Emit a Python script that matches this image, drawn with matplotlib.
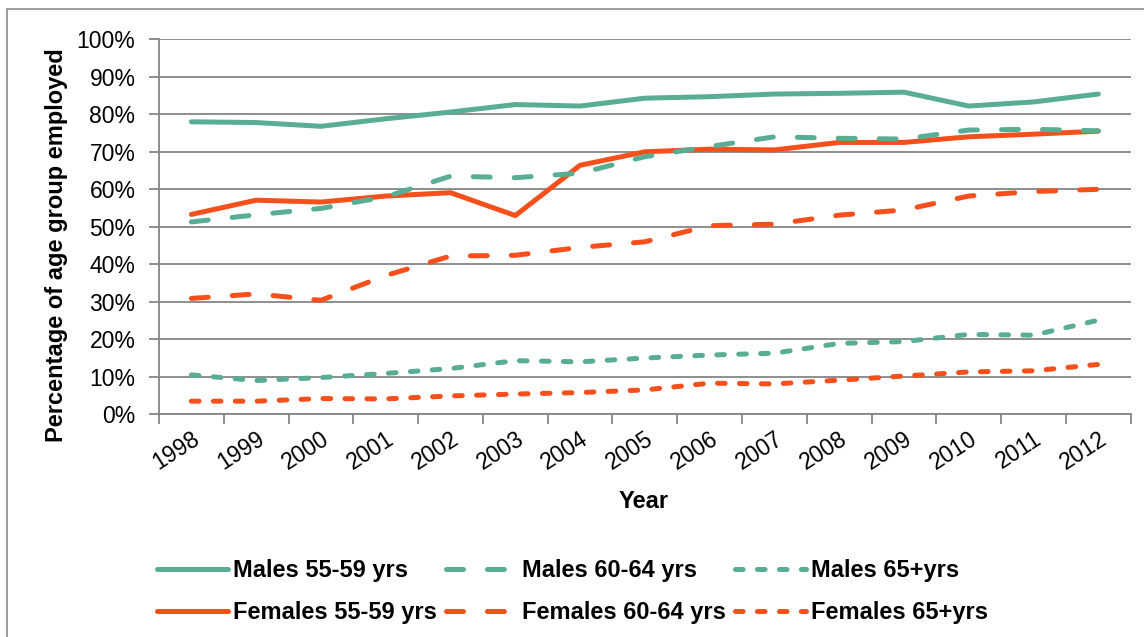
import matplotlib
matplotlib.use("Agg")
import matplotlib.pyplot as plt
from matplotlib.patches import Rectangle
import numpy as np

plt.rcParams['font.family'] = ['Liberation Sans', 'DejaVu Sans']
plt.rcParams['lines.scale_dashes'] = False

years = ['1998', '1999', '2000', '2001', '2002', '2003', '2004', '2005',
         '2006', '2007', '2008', '2009', '2010', '2011', '2012']

males_55_59 = [78.0, 77.8, 76.8, 78.8, 80.6, 82.6, 82.2, 84.3, 84.7, 85.4, 85.6, 85.9, 82.2, 83.3, 85.4]
males_60_64 = [51.3, 53.2, 54.9, 58.0, 63.5, 63.1, 64.3, 68.7, 71.4, 74.0, 73.6, 73.4, 75.8, 76.0, 75.6]
males_65 = [10.5, 9.0, 9.8, 10.9, 12.2, 14.3, 14.0, 15.0, 15.8, 16.3, 18.9, 19.4, 21.3, 21.1, 25.1]
females_55_59 = [53.3, 57.1, 56.6, 58.2, 59.1, 53.0, 66.4, 70.0, 70.7, 70.5, 72.5, 72.5, 74.0, 74.7, 75.5]
females_60_64 = [30.9, 32.1, 30.4, 37.0, 42.2, 42.4, 44.5, 46.0, 50.3, 50.7, 53.1, 54.5, 58.2, 59.4, 60.0]
females_65 = [3.5, 3.5, 4.2, 4.1, 4.9, 5.4, 5.8, 6.5, 8.3, 8.1, 9.1, 10.2, 11.3, 11.6, 13.3]

green = '#59AD95'
red = '#F5501C'
grid_gray = '#868686'
lw = 3.6
long_dash = (12.2, 17.3)
short_dash = (5.5, 10.3)

fig = plt.figure(figsize=(11.44, 6.37), dpi=100)
ax = fig.add_axes([159 / 1144, 1 - 414.3 / 637, (1130.7 - 159) / 1144, (414.3 - 39.3) / 637])

x = np.arange(len(years))
style = dict(lw=lw, solid_capstyle='round', dash_capstyle='round')
ax.plot(x, males_55_59, color=green, label='Males 55-59 yrs', **style)
ax.plot(x, females_55_59, color=red, label='Females 55-59 yrs', **style)
ax.plot(x, males_60_64, color=green, ls=(0, long_dash), label='Males 60-64 yrs', **style)
ax.plot(x, females_60_64, color=red, ls=(0, long_dash), label='Females 60-64 yrs', **style)
ax.plot(x, males_65, color=green, ls=(0, short_dash), label='Males 65+yrs', **style)
ax.plot(x, females_65, color=red, ls=(0, short_dash), label='Females 65+yrs', **style)

ax.set_xlim(-0.5, len(years) - 0.5)
ax.set_ylim(0, 100)
ax.set_yticks(np.arange(0, 101, 10))
ax.set_yticklabels([f'{v}%' for v in range(0, 101, 10)], fontsize=16.5)
ax.yaxis.grid(True, color=grid_gray, lw=1.3)
ax.set_axisbelow(True)

# category boundaries carry the tick marks, centres carry the labels
ax.set_xticks(np.arange(-0.5, len(years)), labels=[''] * (len(years) + 1))
ax.set_xticks(x, labels=years, minor=True)
ax.tick_params(axis='x', which='minor', length=0, pad=9, labelsize=16.5)
for lab in ax.get_xticklabels(minor=True):
    lab.set_rotation(33)
    lab.set_ha('right')
    lab.set_va('top')
    lab.set_rotation_mode('anchor')
ax.tick_params(axis='both', which='major', length=7, width=1.3, color=grid_gray)
ax.tick_params(axis='y', pad=10)

for side in ['top', 'right']:
    ax.spines[side].set_visible(False)
for side in ['left', 'bottom']:
    ax.spines[side].set_color(grid_gray)
    ax.spines[side].set_linewidth(1.3)

fig.text(57 / 1144, 1 - 245 / 637, 'Percentage of age group employed', rotation=90,
         ha='center', va='center', fontsize=17, fontweight='bold')
fig.text(644 / 1144, 1 - 502 / 637, 'Year', ha='center', va='center',
         fontsize=17, fontweight='bold')

fig.legend(loc='upper left', bbox_to_anchor=(136 / 1144, 1 - 538 / 637), ncol=3,
           frameon=False, prop=dict(size=17, weight='bold'), handlelength=3.0,
           handletextpad=0.2, columnspacing=0.4, labelspacing=0.8)

fig.add_artist(Rectangle((7 / 1144, -0.1), 1.2, 1.1 - 9 / 637, transform=fig.transFigure,
                         fill=False, edgecolor='#8C8C8C', lw=1.2))

fig.savefig('out.png', dpi=100)
